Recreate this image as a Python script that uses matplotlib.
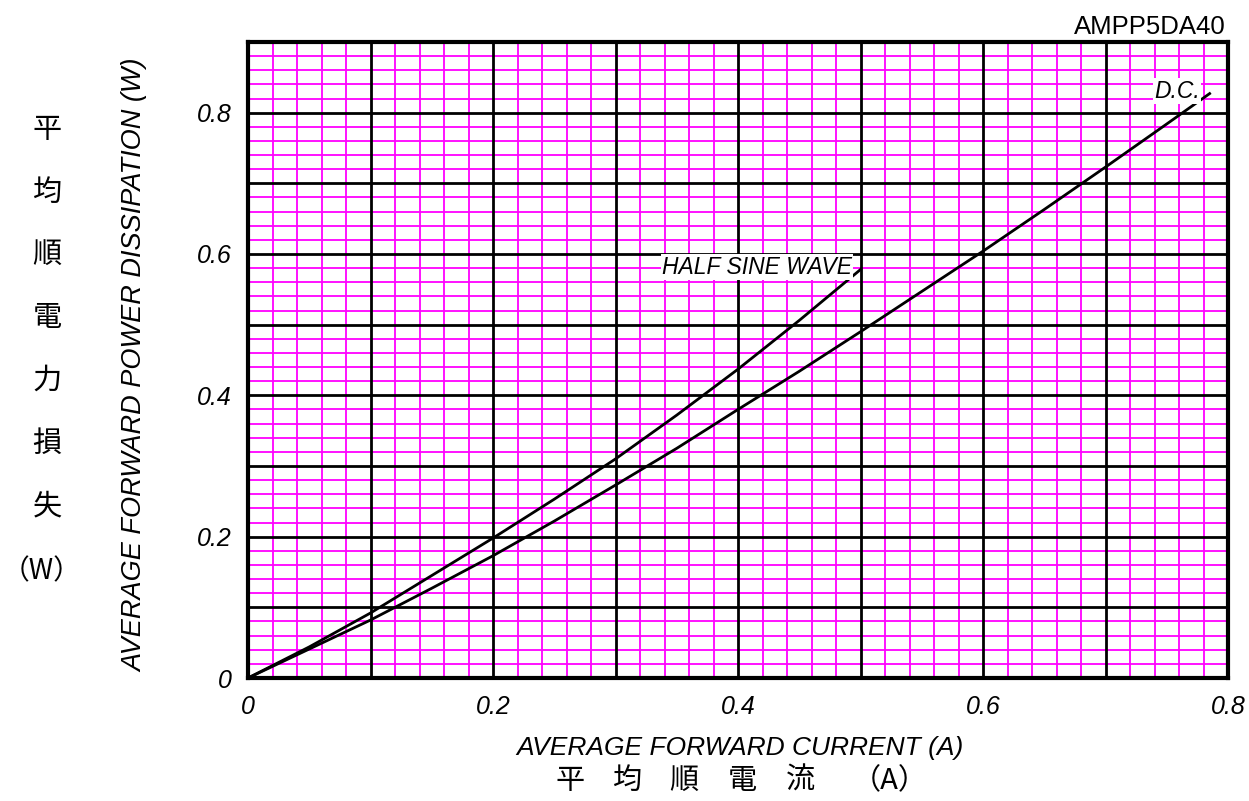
import matplotlib
matplotlib.use("Agg")
import matplotlib.pyplot as plt
import numpy as np

# Data
hs_x = [0.0, 0.05, 0.1, 0.15, 0.2, 0.25, 0.3, 0.35, 0.4, 0.45, 0.5]
hs_y = [0.0, 0.044, 0.092, 0.145, 0.198, 0.253, 0.310, 0.372, 0.437, 0.506, 0.578]
dc_x = [0.0, 0.05, 0.1, 0.15, 0.2, 0.25, 0.3, 0.35, 0.4, 0.45, 0.5, 0.55, 0.6, 0.65, 0.7, 0.75, 0.785]
dc_y = [0.0, 0.041, 0.082, 0.127, 0.173, 0.222, 0.273, 0.325, 0.380, 0.434, 0.490, 0.547, 0.604, 0.663, 0.723, 0.784, 0.827]

x_ticks = [0, 0.2, 0.4, 0.6, 0.8]
x_tick_labels = ["0", "0.2", "0.4", "0.6", "0.8"]
y_ticks = [0, 0.2, 0.4, 0.6, 0.8]
y_tick_labels = ["0", "0.2", "0.4", "0.6", "0.8"]

LAT = "Liberation Sans"
JP = ["Noto Sans CJK JP", "DejaVu Sans"]

fig = plt.figure(figsize=(12.49, 8.01), dpi=100)
ax = fig.add_axes([248/1249, 1-678/801, (1228-248)/1249, (678-42)/801])
ax.set_xlim(0, 0.8)
ax.set_ylim(0, 0.9)

mag = "#FF00FF"
for v in np.arange(0.02, 0.8, 0.02):
    if abs(round(v*10) - v*10) > 1e-6:
        ax.axvline(v, color=mag, lw=1.3, zorder=1)
for v in np.arange(0.02, 0.9, 0.02):
    if abs(round(v*10) - v*10) > 1e-6:
        ax.axhline(v, color=mag, lw=1.3, zorder=1)
for v in np.arange(0.1, 0.8, 0.1):
    ax.axvline(v, color="black", lw=2.0, zorder=2)
for v in np.arange(0.1, 0.9, 0.1):
    ax.axhline(v, color="black", lw=2.0, zorder=2)

ax.plot(hs_x, hs_y, color="black", lw=2.0, zorder=4)
ax.plot(dc_x, dc_y, color="black", lw=2.0, zorder=4)

for s in ax.spines.values():
    s.set_linewidth(3)
    s.set_color("black")
    s.set_zorder(5)

ax.set_xticks(x_ticks)
ax.set_xticklabels(x_tick_labels, fontfamily=LAT, fontstyle="italic", fontsize=18)
ax.set_yticks(y_ticks)
ax.set_yticklabels(y_tick_labels, fontfamily=LAT, fontstyle="italic", fontsize=18)
ax.tick_params(axis="x", length=0, pad=12)
ax.tick_params(axis="y", length=0, pad=12)

ax.text(0.493, 0.572, "HALF SINE WAVE", ha="right", va="baseline", fontfamily=LAT,
        fontstyle="italic", fontsize=16.5, zorder=6,
        bbox=dict(facecolor="white", edgecolor="none", pad=1))
ax.text(0.777, 0.821, "D.C.", ha="right", va="baseline", fontfamily=LAT,
        fontstyle="italic", fontsize=16.5, zorder=6,
        bbox=dict(facecolor="white", edgecolor="none", pad=1))

fig.text(1226/1249, 1-27/801, "AMPP5DA40", ha="right", va="center", fontfamily=LAT, fontsize=18.5)

fig.text(135/1249, 1-365/801, "AVERAGE FORWARD POWER DISSIPATION (W)", rotation=90,
         ha="center", va="center", fontfamily=LAT, fontstyle="italic", fontsize=19.5)
fig.text(740/1249, 1-748/801, "AVERAGE FORWARD CURRENT (A)", ha="center", va="center",
         fontfamily=LAT, fontstyle="italic", fontsize=19)

bottom_chars = ["平", "均", "順", "電", "流", "（A）"]
bottom_x = [570, 627, 684, 742, 800, 890]
for c, xx in zip(bottom_chars, bottom_x):
    fig.text(xx/1249, 1-781/801, c, ha="center", va="center", fontfamily=JP, fontsize=21)

jp_chars = ["平", "均", "順", "電", "力", "損", "失"]
jp_y = [130, 193, 255, 318, 381, 444, 506]
for c, yy in zip(jp_chars, jp_y):
    fig.text(47/1249, 1-yy/801, c, ha="center", va="center", fontfamily=JP, fontsize=21)
fig.text(42/1249, 1-571/801, "（W）", ha="center", va="center", fontfamily=JP, fontsize=20)

fig.savefig("out.png", dpi=100)
